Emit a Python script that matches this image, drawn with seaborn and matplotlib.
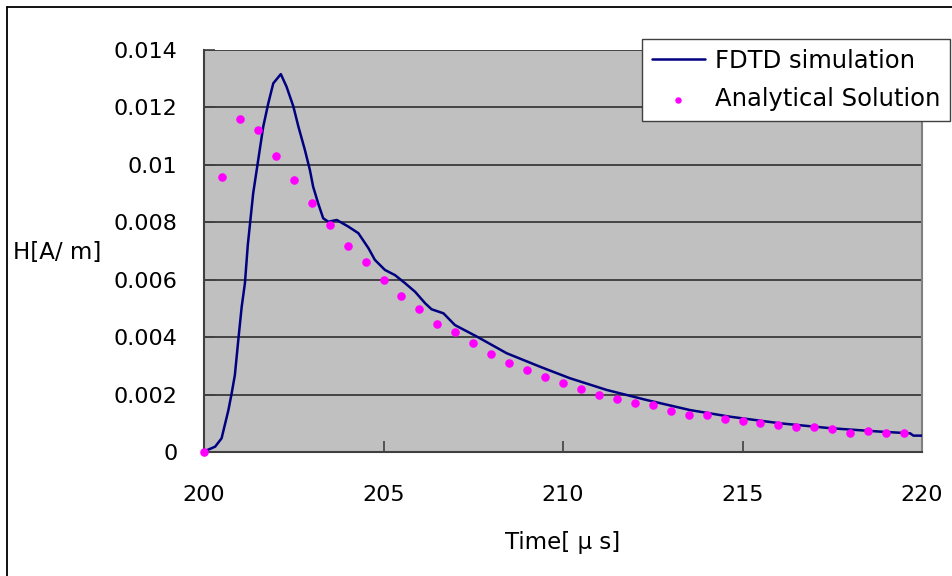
import matplotlib
matplotlib.use("Agg")
import matplotlib.pyplot as plt
from matplotlib.lines import Line2D
import numpy as np
import pandas as pd
import seaborn as sns

# FDTD simulation trace (time in microseconds, H in A/m)
fdtd_t = [200.0, 200.03, 200.31, 200.49, 200.68, 200.77, 200.86, 200.96, 201.05, 201.14,
          201.22, 201.37, 201.51, 201.65, 201.79, 201.93, 202.14, 202.30, 202.49, 202.63,
          202.81, 202.95, 203.04, 203.18, 203.32, 203.46, 203.70, 204.02, 204.30, 204.58,
          204.76, 205.04, 205.32, 205.60, 205.88, 206.16, 206.34, 206.67, 206.99, 207.60,
          208.43, 209.36, 210.19, 211.22, 212.33, 213.54, 214.65, 216.04, 217.44, 218.83,
          219.67, 219.76, 220.0]
fdtd_h = [0.0, 0.000035, 0.000185, 0.000477, 0.00146, 0.00204, 0.00268, 0.00396, 0.00506, 0.00588,
          0.00721, 0.00901, 0.01017, 0.01133, 0.01214, 0.01284, 0.01316, 0.01272, 0.01203, 0.01133,
          0.01052, 0.00982, 0.00924, 0.00866, 0.00814, 0.00802, 0.00808, 0.00785, 0.00762, 0.00710,
          0.00669, 0.00634, 0.00616, 0.00588, 0.00558, 0.00518, 0.00497, 0.00483, 0.00442, 0.00402,
          0.00344, 0.00297, 0.00257, 0.00216, 0.00181, 0.00146, 0.00123, 0.00100, 0.00083, 0.00071,
          0.00065, 0.00057, 0.00057]

# Analytical solution sampled every 0.5 microseconds
ana_t = [200.0, 200.5, 201.0, 201.5, 202.0, 202.5, 203.0, 203.5, 204.0, 204.5,
         205.0, 205.5, 206.0, 206.5, 207.0, 207.5, 208.0, 208.5, 209.0, 209.5,
         210.0, 210.5, 211.0, 211.5, 212.0, 212.5, 213.0, 213.5, 214.0, 214.5,
         215.0, 215.5, 216.0, 216.5, 217.0, 217.5, 218.0, 218.5, 219.0, 219.5]
ana_h = [0.0, 0.00958, 0.0116, 0.01121, 0.01031, 0.00947, 0.00867, 0.00791, 0.00717, 0.00662,
         0.00599, 0.00543, 0.00498, 0.00446, 0.00417, 0.00381, 0.00340, 0.00311, 0.00284, 0.00262,
         0.00241, 0.00220, 0.00200, 0.00186, 0.00172, 0.00164, 0.00144, 0.00130, 0.00130, 0.00116,
         0.00109, 0.00102, 0.00095, 0.00088, 0.00088, 0.00081, 0.00067, 0.00074, 0.00067, 0.00067]

x_ticks = [200, 205, 210, 215, 220]
y_ticks = [0, 0.002, 0.004, 0.006, 0.008, 0.01, 0.012, 0.014]
y_tick_labels = ["0", "0.002", "0.004", "0.006", "0.008", "0.01", "0.012", "0.014"]

sns.set_theme(style="white")
plt.rcParams["font.family"] = ["DejaVu Sans", "Noto Sans CJK JP"]
plt.rcParams["text.color"] = "black"
plt.rcParams["axes.labelcolor"] = "black"
plt.rcParams["xtick.color"] = "black"
plt.rcParams["ytick.color"] = "black"

fig = plt.figure(figsize=(9.53, 5.76), dpi=100)
ax = fig.add_axes([204 / 953, 1 - 452 / 576, (922 - 204) / 953, (452 - 50) / 576])
ax.set_facecolor("#C0C0C0")

df_fdtd = pd.DataFrame({"t": fdtd_t, "h": fdtd_h})
df_ana = pd.DataFrame({"t": ana_t, "h": ana_h})

sns.lineplot(data=df_fdtd, x="t", y="h", ax=ax, color="#000080", linewidth=1.8,
             label="FDTD simulation", zorder=3, sort=False)
sns.scatterplot(data=df_ana, x="t", y="h", ax=ax, color="#FF00FF", s=38, linewidth=0,
                label="Analytical Solution", zorder=4, clip_on=False)

ax.set_xlim(200, 220)
ax.set_ylim(0, 0.014)
ax.set_xticks(x_ticks)
ax.set_xticklabels([str(v) for v in x_ticks])
ax.set_yticks(y_ticks)
ax.set_yticklabels(y_tick_labels)
ax.yaxis.grid(True, color="#3a3a3a", linewidth=1.3)
ax.xaxis.grid(False)
ax.set_axisbelow(True)

ax.tick_params(axis="both", direction="in", length=8, width=1.2, color="#404040",
               labelsize=16, labelcolor="black")
ax.tick_params(axis="y", pad=19, left=True)
ax.tick_params(axis="x", pad=24, bottom=True)
for s in ax.spines.values():
    s.set_color("#404040")
    s.set_linewidth(1.5)
ax.spines["top"].set_visible(False)
ax.spines["right"].set_color("#808080")

ax.set_xlabel("Time[ μ s]", fontsize=16.5, color="black", va="center")
ax.xaxis.set_label_coords(0.5, -0.224)
ax.set_ylabel("H[A/ m]", fontsize=16.5, rotation=0, ha="center", va="center", color="black")
ax.yaxis.set_label_coords(-0.205, 0.4975)

leg = ax.legend(loc="upper right", bbox_to_anchor=(950 / 953, 1 - 39 / 576),
                bbox_transform=fig.transFigure, frameon=True, fancybox=False,
                edgecolor="#404040", facecolor="white", framealpha=1, fontsize=17.5,
                handlelength=2.2, borderpad=0.4, labelspacing=0.6, handletextpad=0.4,
                borderaxespad=0, markerscale=0.75)
for txt in leg.get_texts():
    txt.set_color("black")

# outer frame of the chart area
fig.add_artist(Line2D([7 / 953, 7 / 953], [0, 1 - 7 / 576], color="black", linewidth=1.3,
                      transform=fig.transFigure))
fig.add_artist(Line2D([7 / 953, 1], [1 - 7 / 576, 1 - 7 / 576], color="black", linewidth=1.3,
                      transform=fig.transFigure))

fig.savefig("out.png", dpi=100, facecolor="white")
